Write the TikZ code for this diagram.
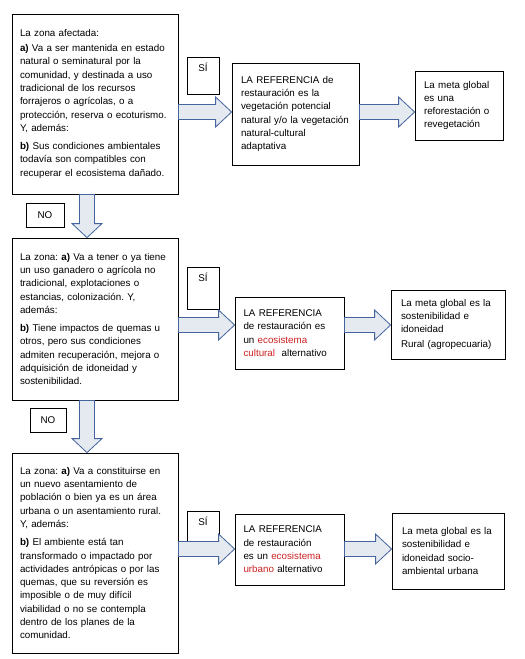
\documentclass[tikz,border=0pt]{standalone}
\usepackage{fontspec}
\setmainfont{Liberation Sans}
\frenchspacing
\usetikzlibrary{calc}
\definecolor{flechaborde}{RGB}{68,100,158}
\definecolor{flecharelleno}{RGB}{229,233,240}
\definecolor{rojo}{RGB}{204,32,32}
\newcommand{\enrojo}[1]{\textcolor{rojo}{#1}}
\begin{document}
\begin{tikzpicture}[x=1pt,y=-1pt,
  caja/.style={draw, line width=0.8pt, align=left, font=\fontsize{9.8}{13.3}\selectfont\frenchspacing},
  zona/.style={caja, text width=150pt, inner xsep=8pt},
  sibox/.style={caja, align=center, minimum width=32pt, inner ysep=6pt, text height=8pt, anchor=north},
  nobox/.style={caja, align=center, minimum width=38pt},
  flechader/.style={draw=flechaborde, fill=flecharelleno, line width=0.8pt,
    to path={let \p1=(\tikztostart), \p2=(\tikztotarget) in
      (\x1,\y1+7.5pt) -- (\x2-16pt,\y1+7.5pt) -- (\x2-16pt,\y1+15pt) -- (\x2,\y1)
      -- (\x2-16pt,\y1-15pt) -- (\x2-16pt,\y1-7.5pt) -- (\x1,\y1-7.5pt) -- cycle}},
  flechabaj/.style={draw=flechaborde, fill=flecharelleno, line width=0.8pt,
    to path={let \p1=(\tikztostart), \p2=(\tikztotarget) in
      (\x1-7.5pt,\y1) -- (\x1-7.5pt,\y2+14pt) -- (\x1-15pt,\y2+14pt) -- (\x1,\y2)
      -- (\x1+15pt,\y2+14pt) -- (\x1+7.5pt,\y2+14pt) -- (\x1+7.5pt,\y1) -- cycle}}]
\useasboundingbox (0,0) rectangle (525,659);

% columna izquierda
\node[zona, minimum height=180pt] (zona1) at (95,104) {La zona afectada:\\[1.5pt]
\textbf{a)} Va a ser mantenida en estado\\
natural o seminatural por la\\
comunidad, y destinada a uso\\
tradicional de los recursos\\
forrajeros o agrícolas, o a\\
protección, reserva o ecoturismo.\\
Y, además:\\[5pt]
\textbf{b)} Sus condiciones ambientales\\
todavía son compatibles con\\
recuperar el ecosistema dañado.};
\node[zona, minimum height=162pt] (zona2) at (95,319) {La zona: \textbf{a)} Va a tener o ya tiene\\
un uso ganadero o agrícola no\\
tradicional, explotaciones o\\
estancias, colonización. Y,\\
además:\\[5pt]
\textbf{b)} Tiene impactos de quemas u\\
otros, pero sus condiciones\\
admiten recuperación, mejora o\\
adquisición de idoneidad y\\
sostenibilidad.};
\node[zona, minimum height=200pt] (zona3) at (95,553) {La zona: \textbf{a)} Va a constituirse en\\
un nuevo asentamiento de\\
población o bien ya es un área\\
urbana o un asentamiento rural.\\
Y, además:\\[5pt]
\textbf{b)} El ambiente está tan\\
transformado o impactado por\\
actividades antrópicas o por las\\
quemas, que su reversión es\\
imposible o de muy difícil\\
viabilidad o no se contempla\\
dentro de los planes de la\\
comunidad.};

% referencias
\node[caja, text width=109pt, inner xsep=9pt, minimum height=102pt] (ref1) at (295.5,114) {LA REFERENCIA de\\
restauración es la\\
vegetación potencial\\
natural y/o la vegetación\\
natural-cultural\\
adaptativa};
\node[caja, text width=92pt, inner xsep=8.5pt, minimum height=72pt] (ref2) at (289.5,333) {LA REFERENCIA\\
de restauración es\\
un \enrojo{ecosistema}\\
\enrojo{cultural}\ \ alternativo};
\node[caja, text width=92pt, inner xsep=8.5pt, minimum height=71pt] (ref3) at (289.5,549.5) {LA REFERENCIA\\
de restauración\\
es un \enrojo{ecosistema}\\
\enrojo{urbano} alternativo};

% metas
\node[caja, text width=70pt, inner xsep=9pt, minimum height=69pt] (meta1) at (459,105.5) {La meta global\\
es una\\
reforestación o\\
revegetación};
\node[caja, text width=94pt, inner xsep=10pt, minimum height=69pt] (meta2) at (448,324.5) {La meta global es la\\
sostenibilidad e\\
idoneidad\\[2pt]
Rural (agropecuaria)};
\node[caja, text width=92pt, inner xsep=10pt, minimum height=76pt] (meta3) at (448,551) {La meta global es la\\
sostenibilidad e\\
idoneidad socio-\\
ambiental urbana\\[10pt]};

% etiquetas
\node[sibox, text depth=17pt] (si1) at (203,57) {SÍ};
\node[sibox, text depth=22pt] (si2) at (203,267) {SÍ};
\node[sibox, text depth=10pt] (si3) at (203,511) {SÍ};
\node[nobox, minimum height=24pt] (no1) at (45,215) {NO};
\node[nobox, minimum height=24pt, minimum width=36pt] (no2) at (48,420) {NO};

\coordinate (fila1) at (0,112);
\coordinate (fila2) at (0,325);
\coordinate (fila3) at (0,549);
\coordinate (col) at (87,0);

\draw[flechader] (zona1.east |- fila1) to (ref1.west |- fila1);
\draw[flechader] (ref1.east |- fila1) to (meta1.west |- fila1);
\draw[flechader] (zona2.east |- fila2) to (ref2.west |- fila2);
\draw[flechader] (ref2.east |- fila2) to (meta2.west |- fila2);
\draw[flechader] (zona3.east |- fila3) to (ref3.west |- fila3);
\draw[flechader] (ref3.east |- fila3) to (meta3.west |- fila3);
\draw[flechabaj] (zona1.south -| col) to (zona2.north -| col);
\draw[flechabaj] (zona2.south -| col) to (zona3.north -| col);
\end{tikzpicture}
\end{document}
